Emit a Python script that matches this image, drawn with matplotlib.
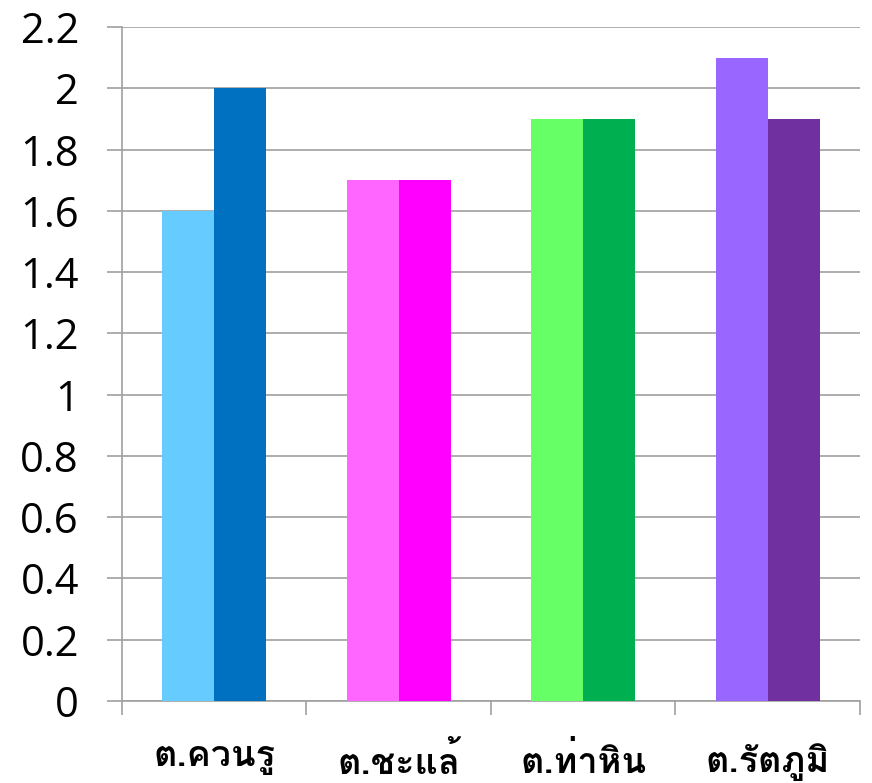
import matplotlib
matplotlib.use("Agg")
import matplotlib.pyplot as plt
from matplotlib import font_manager, ft2font
import numpy as np

# data
categories = ["ต.ควนรู", "ต.ชะแล้", "ต.ท่าหิน", "ต.รัตภูมิ"]
series_a = [1.6, 1.7, 1.9, 2.1]
series_b = [2.0, 1.7, 1.9, 1.9]
colors_a = ["#66CCFF", "#FF66FF", "#66FF66", "#9966FF"]
colors_b = ["#0070C0", "#FF00FF", "#00B050", "#7030A0"]
yticks = [0, 0.2, 0.4, 0.6, 0.8, 1, 1.2, 1.4, 1.6, 1.8, 2, 2.2]
ytick_labels = ["0", "0.2", "0.4", "0.6", "0.8", "1", "1.2", "1.4", "1.6", "1.8", "2", "2.2"]


def font_with(char):
    # first installed family that has a glyph for char
    for f in font_manager.fontManager.ttflist:
        try:
            if ord(char) in ft2font.FT2Font(f.fname).get_charmap():
                return f.name
        except Exception:
            pass
    return None


thai = font_with("ต")
label_family = [thai, "DejaVu Sans"] if thai else ["DejaVu Sans"]

plt.rcParams["font.family"] = ["Open Sans", "DejaVu Sans"]

fig = plt.figure(figsize=(8.72, 7.83), dpi=100)
ax = fig.add_axes([0.1399, 0.1047, 0.8463, 0.8608])

x = np.arange(len(categories))
w = 0.282
ax.bar(x - w / 2, series_a, w, color=colors_a, zorder=3)
ax.bar(x + w / 2, series_b, w, color=colors_b, zorder=3)

ax.set_xlim(-0.5, len(categories) - 0.5)
ax.set_ylim(0, 2.2)

grid_c = "#A0A0A0"
ax.set_yticks(yticks)
ax.set_yticklabels(ytick_labels, fontsize=30)
ax.yaxis.grid(True, color=grid_c, linewidth=1.2, zorder=0)
ax.tick_params(axis="y", length=11, width=1.2, color=grid_c, pad=20)

ax.set_xticks(np.arange(-0.5, len(categories), 1.0))
ax.set_xticklabels([])
ax.set_xticks(x, minor=True)
ax.set_xticklabels(categories, minor=True, fontsize=26, fontweight="semibold",
                   family=label_family)
ax.tick_params(axis="x", which="major", length=10, width=1.2, color=grid_c)
ax.tick_params(axis="x", which="minor", length=0, pad=30)

for side in ("top", "right"):
    ax.spines[side].set_visible(False)
for side in ("left", "bottom"):
    ax.spines[side].set_color(grid_c)
    ax.spines[side].set_linewidth(1.2)

fig.savefig("out.png", dpi=100)
